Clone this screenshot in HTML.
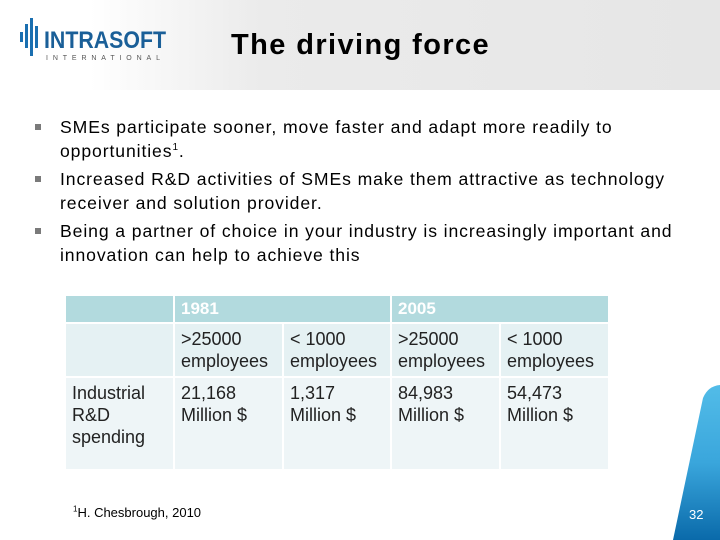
<!DOCTYPE html>
<html><head><meta charset="utf-8">
<style>
body{margin:0;width:720px;height:540px;position:relative;overflow:hidden;background:#fff;font-family:"Liberation Sans",sans-serif}
.hdr{position:absolute;left:0;top:0;width:720px;height:90px;background:linear-gradient(90deg,#fff 0,#fff 90px,#ebebeb 260px,#e6e6e6 720px)}
.title{position:absolute;left:231px;top:29px;font-size:29px;font-weight:bold;color:#000;letter-spacing:1.4px}
.logo{position:absolute;left:18px;top:16px}
.bul{position:absolute;left:35px;font-size:17.6px;color:#000;line-height:24px;letter-spacing:0.9px}
.bul span.sq{position:absolute;left:0;top:9px;width:6px;height:6px;background:#7a7a7a}
.bul div{margin-left:25px;width:640px}
sup{line-height:0}
table{position:absolute;left:66px;top:296px;border-collapse:separate;border-spacing:2px;margin:-2px;font-size:18px;color:#222}
td{vertical-align:top;padding:4px 6px;line-height:22px}
.h td{background:#b2dade;color:#fff;font-weight:bold;height:19px;padding:2px 6px;font-size:17px}
.r2 td{background:#e5f1f3;height:41px}
.r3 td{background:#eef5f7;height:83px}
.foot{position:absolute;left:73px;top:505px;font-size:13px;color:#000}
.pn{position:absolute;left:689px;top:507px;font-size:13px;color:#fff}
</style></head><body>
<div class="hdr"></div>
<svg class="logo" width="150" height="46">
<g fill="#1a6fb0"><rect x="2" y="16" width="3" height="10"/><rect x="7" y="8" width="3" height="24"/><rect x="12" y="2" width="3" height="38"/><rect x="17" y="10" width="3" height="22"/></g>
<text x="26" y="32" font-family="Liberation Sans" font-weight="bold" font-size="24" fill="#1a5f98" textLength="122" lengthAdjust="spacingAndGlyphs">INTRASOFT</text>
<text x="28" y="44" font-family="Liberation Sans" font-size="7" fill="#555" textLength="118" letter-spacing="4">INTERNATIONAL</text>
</svg>
<div class="title">The driving force</div>
<div class="bul" style="top:115px"><span class="sq"></span><div>SMEs participate sooner, move faster and adapt more readily to opportunities<sup style="font-size:10px">1</sup>.</div></div>
<div class="bul" style="top:167px"><span class="sq"></span><div>Increased R&amp;D activities of SMEs make them attractive as technology receiver and solution provider.</div></div>
<div class="bul" style="top:219px"><span class="sq"></span><div>Being a partner of choice in your industry is increasingly important and innovation can help to achieve this</div></div>
<table>
<tr class="h"><td style="width:95px"></td><td colspan="2">1981</td><td colspan="2">2005</td></tr>
<tr class="r2"><td></td><td style="width:95px">&gt;25000 employees</td><td style="width:94px">&lt; 1000 employees</td><td style="width:95px">&gt;25000 employees</td><td style="width:95px">&lt; 1000 employees</td></tr>
<tr class="r3"><td>Industrial R&amp;D spending</td><td>21,168 Million $</td><td>1,317 Million $</td><td>84,983 Million $</td><td>54,473 Million $</td></tr>
</table>
<div class="foot"><sup style="font-size:8px">1</sup>H. Chesbrough, 2010</div>
<svg style="position:absolute;left:660px;top:380px" width="60" height="160">
<defs><linearGradient id="g" x1="0" y1="0" x2="0" y2="1"><stop offset="0" stop-color="#52bce8"/><stop offset="0.5" stop-color="#3aa6dc"/><stop offset="1" stop-color="#0a6aaa"/></linearGradient></defs>
<path d="M43 18 Q48 6 60 5 L60 160 L13 160 Z" fill="url(#g)"/>
</svg>
<div class="pn">32</div>
</body></html>
